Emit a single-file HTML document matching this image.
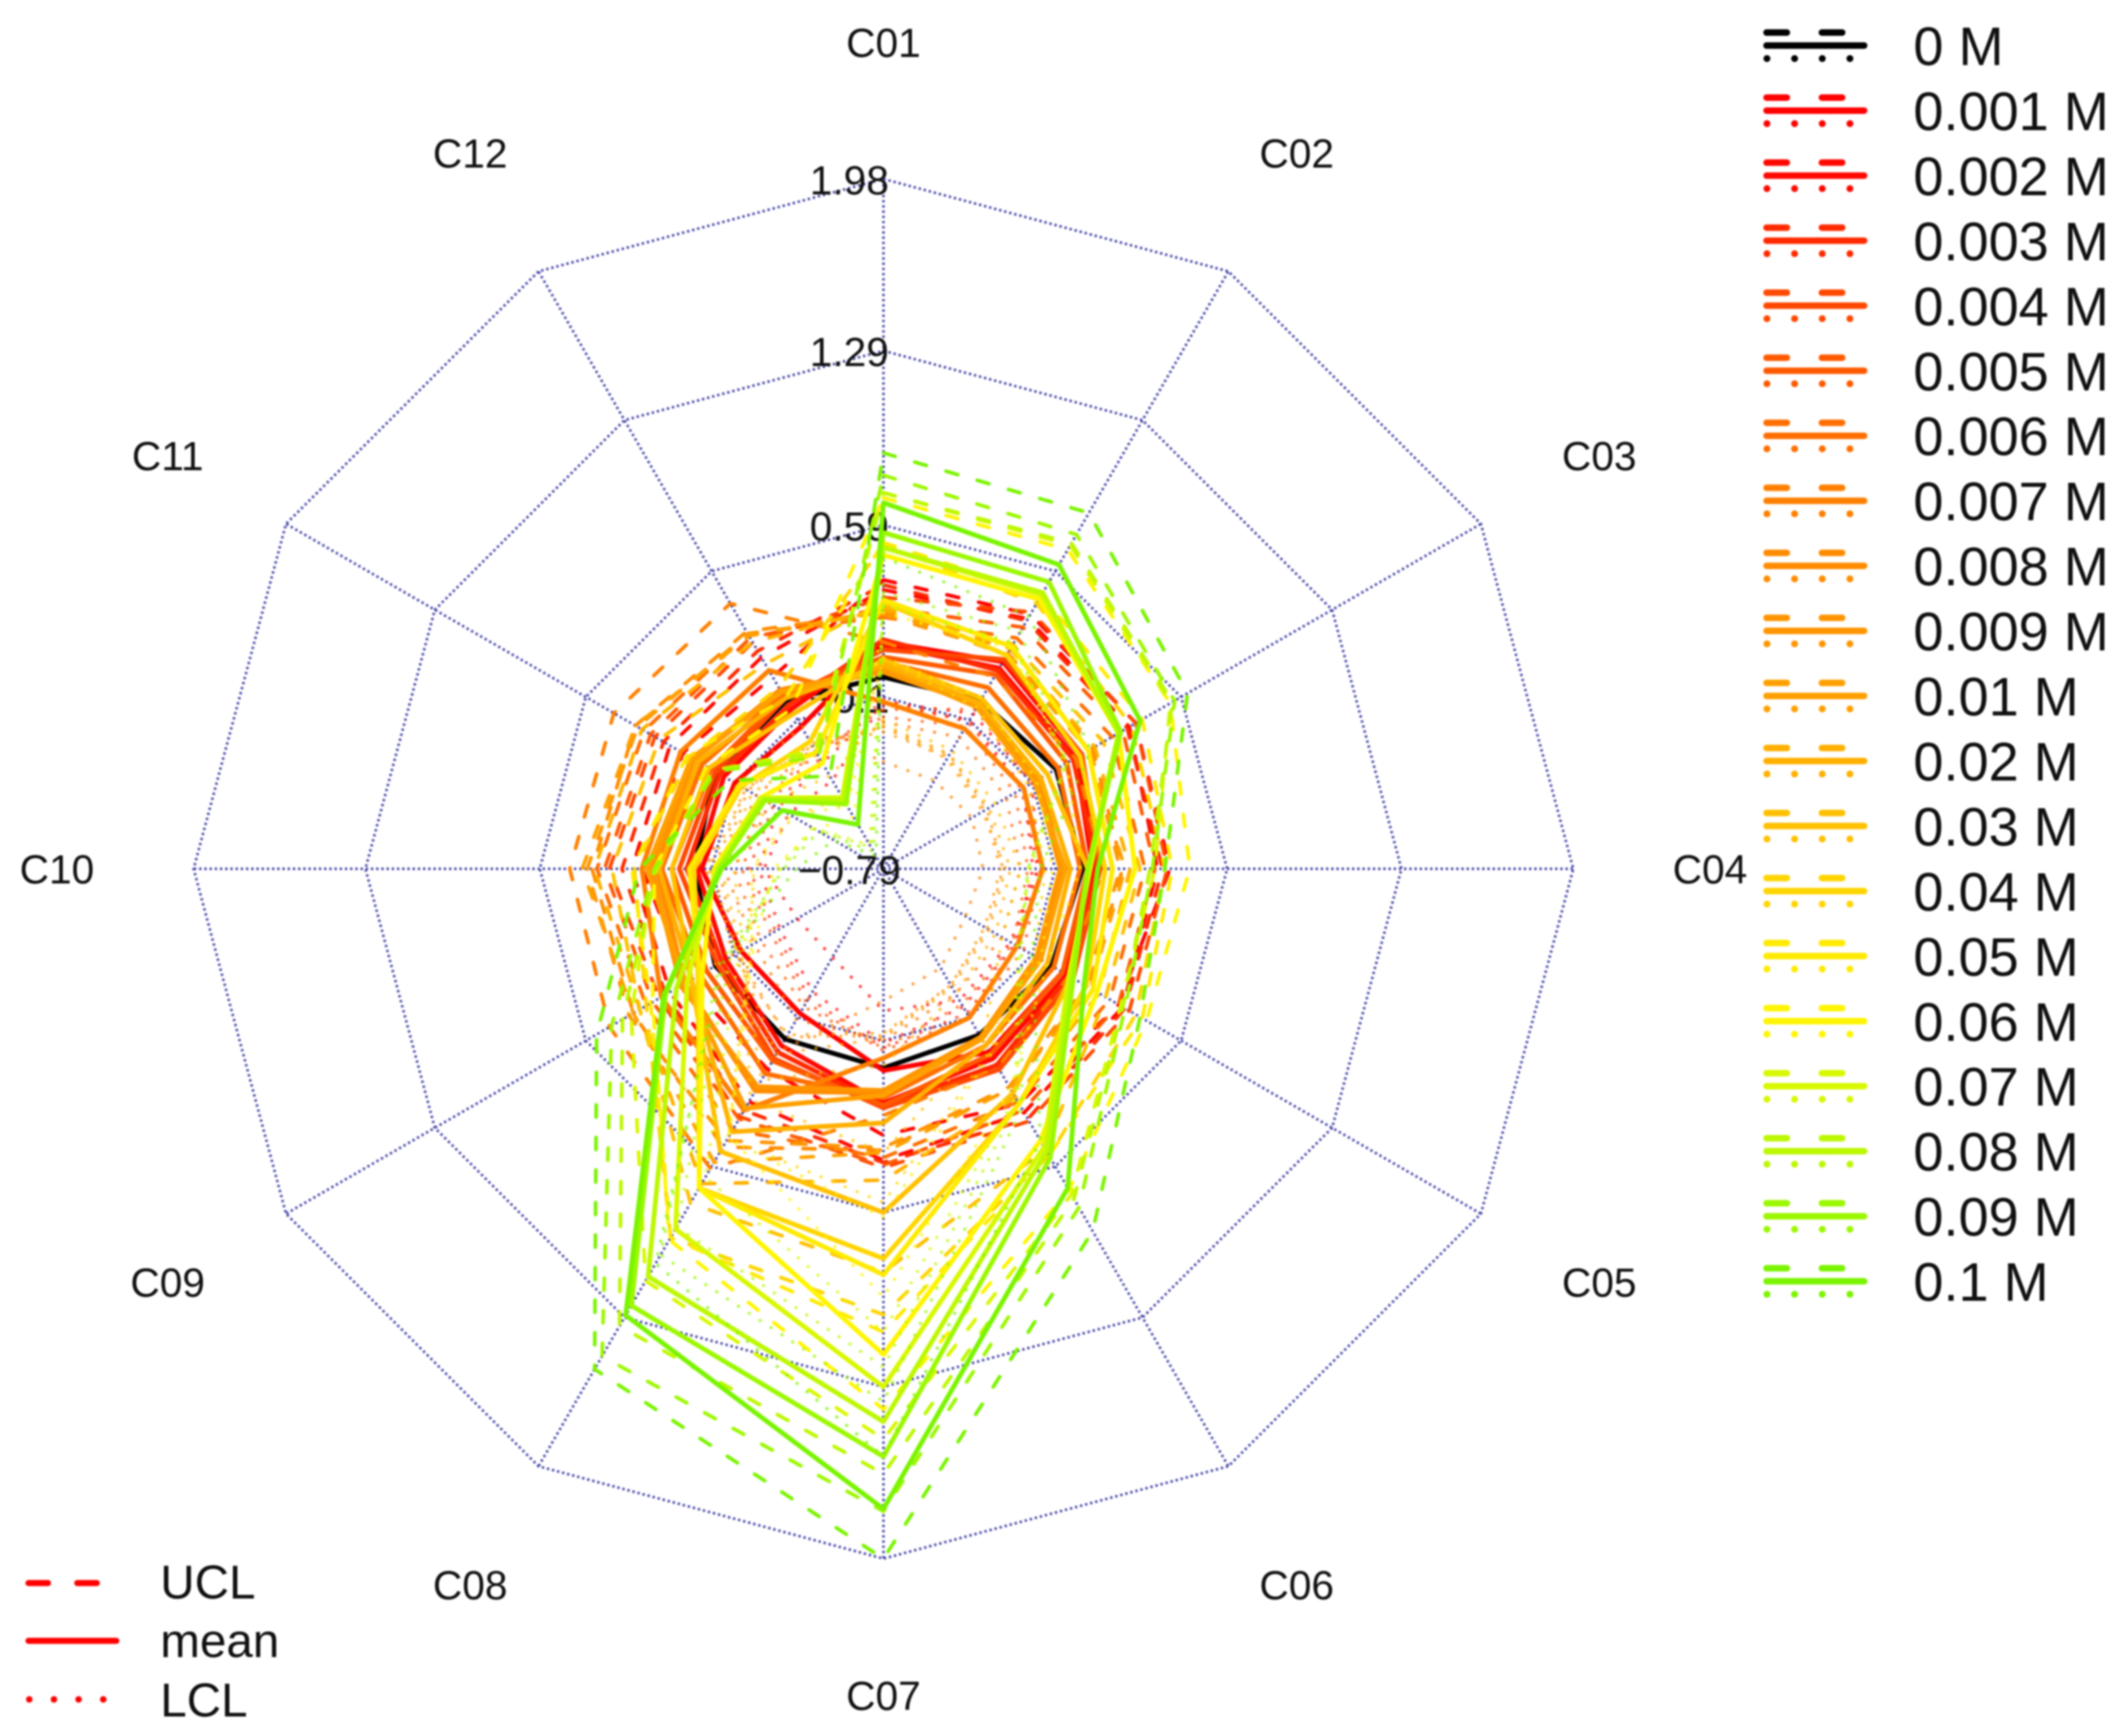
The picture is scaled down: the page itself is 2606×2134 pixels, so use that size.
<!DOCTYPE html>
<html lang="en">
<head>
<meta charset="utf-8">
<title>Radar chart of concentration responses</title>
<style>
html,body{margin:0;padding:0;background:#fff;width:2606px;height:2134px;overflow:hidden}
svg{display:block;filter:blur(1.1px)}
text{font-family:"Liberation Sans",sans-serif;fill:#101010}
</style>
</head>
<body>
<svg id="chart" xmlns="http://www.w3.org/2000/svg" width="2606" height="2134" viewBox="0 0 2606 2134">
  <rect x="0" y="0" width="2606" height="2134" fill="#fff"/>
  <g id="grid"></g>
  <g id="ticks"></g>
  <g id="categories"></g>
  <g id="series"></g>
  <g id="legend"></g>
  <g>
    <g>
      <line x1="35" y1="1946" x2="119" y2="1946" stroke="#ff0000" stroke-width="7.5" stroke-linecap="round" stroke-dasharray="24 36"/>
      <text x="197" y="1965" font-size="58.5">UCL</text>
    </g>
    <g>
      <line x1="35" y1="2017" x2="143" y2="2017" stroke="#ff0000" stroke-width="7.5" stroke-linecap="round"/>
      <text x="197" y="2037" font-size="58.5">mean</text>
    </g>
    <g>
      <line x1="36" y1="2089" x2="130" y2="2089" stroke="#ff0000" stroke-width="8" stroke-linecap="round" stroke-dasharray="0 30.3"/>
      <text x="197" y="2110" font-size="58.5">LCL</text>
    </g>
  </g>
</svg>
<script>
const categories = ["C01","C02","C03","C04","C05","C06","C07","C08","C09","C10","C11","C12"];
const tickValues = [-0.79,-0.10,0.59,1.29,1.98];
const tickLabels = ["\u22120.79","\u22120.1","0.59","1.29","1.98"];
const concentrationLabels = ["0 M","0.001 M","0.002 M","0.003 M","0.004 M","0.005 M","0.006 M","0.007 M","0.008 M","0.009 M","0.01 M","0.02 M","0.03 M","0.04 M","0.05 M","0.06 M","0.07 M","0.08 M","0.09 M","0.1 M"];
const seriesColors = ["#000000","#ff0000","#ff0800","#ff2a00","#ff4800","#ff5a00","#ff6e00","#ff7f00","#ff8c00","#ff9500","#ffa000","#ffb000","#ffc000","#ffd500","#ffea00","#fff500","#d8f800","#bcf800","#9cf800","#7af400"];

const meanValues = [
[-.02,-.01,.01,.01,-.01,-.02,.01,.0,-.01,-.03,-.01,-.01],
[.12,.17,.12,.06,.04,.06,.02,-.12,-.13,-.06,-.10,-.13],
[.11,.14,.10,.05,.06,.09,.15,.03,-.06,-.04,-.05,-.05],
[.13,.13,.09,.07,.07,.12,.16,.06,-.04,.0,-.03,-.03],
[.09,.18,.13,.08,.09,.14,.17,.09,-.02,.03,-.01,.0],
[.06,.11,.06,.03,.04,.07,.16,.10,.03,.06,.01,.01],
[.04,.05,.02,.0,.0,.03,.13,.16,.06,.10,.05,.02],
[-.12,-.14,-.14,-.15,-.17,-.10,-.03,.33,.24,.18,.15,.13],
[.01,-.02,-.07,-.07,-.07,-.01,.11,.24,.13,.12,.09,.04],
[.0,-.03,-.08,-.08,-.08,-.01,.10,.22,.15,.14,.09,.03],
[.02,-.04,-.09,-.06,-.06,.0,.12,.32,.13,.16,.10,.03],
[.03,-.02,-.06,-.04,-.03,.03,.23,.43,.10,.11,.07,.0],
[.05,.0,-.03,.03,.08,.25,.59,.52,.10,.06,.02,-.07],
[.28,.20,.12,.10,.15,.30,.775,.69,.07,-.03,-.13,-.20],
[.29,.24,.16,.13,.18,.30,.84,.69,.06,-.01,-.12,-.25],
[.47,.46,.30,.22,.20,.47,1.16,.69,.05,-.11,-.22,-.30],
[.50,.48,.30,.04,.07,.50,1.29,.88,.12,-.12,-.22,-.46],
[.50,.49,.30,.03,.08,.52,1.43,1.10,.17,-.13,-.23,-.47],
[.56,.54,.31,.03,.09,.55,1.57,1.235,.22,-.13,-.24,-.49],
[.68,.62,.40,.07,.14,.69,1.78,1.28,.23,-.14,-.32,-.585]
];
const uclValues = [
[-.02,-.01,.01,.01,-.01,-.02,.01,.0,-.01,-.03,-.01,-.01],
[.37,.39,.38,.36,.30,.30,.28,.14,.12,.18,.14,.10],
[.33,.37,.35,.31,.32,.34,.38,.29,.20,.22,.20,.19],
[.35,.36,.34,.33,.33,.37,.39,.33,.22,.26,.23,.22],
[.30,.40,.38,.35,.35,.38,.41,.36,.25,.31,.27,.26],
[.26,.33,.32,.30,.30,.33,.40,.37,.28,.33,.29,.28],
[.22,.28,.27,.26,.26,.29,.37,.42,.31,.36,.32,.30],
[.12,.10,.10,.09,.07,.13,.20,.60,.48,.47,.46,.44],
[.24,.23,.18,.17,.16,.23,.34,.50,.37,.38,.36,.31],
[.23,.21,.17,.16,.15,.22,.33,.47,.39,.40,.35,.30],
[.25,.20,.16,.18,.17,.23,.35,.57,.37,.42,.36,.29],
[.26,.23,.19,.20,.21,.27,.46,.67,.34,.37,.33,.26],
[.28,.25,.23,.24,.24,.51,.83,.76,.34,.30,.25,.16],
[.51,.44,.36,.34,.38,.54,1.0,.92,.31,.21,.11,.05],
[.52,.48,.41,.37,.41,.54,1.07,.92,.29,.22,.12,.0],
[.70,.69,.54,.44,.43,.70,1.38,.93,.28,.13,.03,-.05],
[.72,.71,.54,.30,.31,.72,1.50,1.12,.38,.13,.0,-.24],
[.72,.72,.55,.28,.32,.74,1.64,1.33,.42,.12,.0,-.25],
[.79,.76,.56,.29,.33,.78,1.79,1.47,.47,.13,-.01,-.27],
[.88,.86,.62,.34,.40,.89,1.98,1.53,.54,.19,-.08,-.36]
];
const lclValues = [
[-.02,-.01,.01,.01,-.01,-.02,.01,.0,-.01,-.03,-.01,-.01],
[-.12,-.07,-.10,-.17,-.20,-.18,-.22,-.38,-.39,-.31,-.35,-.38],
[-.13,-.10,-.14,-.19,-.18,-.15,-.09,-.22,-.31,-.29,-.30,-.30],
[-.11,-.11,-.15,-.17,-.17,-.12,-.07,-.19,-.29,-.25,-.28,-.28],
[-.15,-.05,-.11,-.16,-.14,-.10,-.06,-.17,-.27,-.22,-.26,-.25],
[-.18,-.13,-.18,-.21,-.19,-.16,-.07,-.15,-.22,-.19,-.24,-.24],
[-.20,-.18,-.22,-.24,-.24,-.21,-.10,-.09,-.19,-.15,-.20,-.23],
[-.36,-.38,-.38,-.39,-.41,-.33,-.26,.06,-.01,-.08,-.11,-.13],
[-.22,-.26,-.31,-.31,-.31,-.25,-.12,-.01,-.11,-.13,-.16,-.21],
[-.24,-.27,-.32,-.32,-.32,-.25,-.13,-.02,-.09,-.11,-.15,-.22],
[-.22,-.28,-.33,-.30,-.30,-.24,-.11,.07,-.11,-.09,-.15,-.22],
[-.21,-.26,-.30,-.28,-.27,-.21,.0,.19,-.13,-.14,-.18,-.26],
[-.19,-.24,-.27,-.24,-.24,.01,.35,.28,-.14,-.19,-.26,-.36],
[.05,-.04,-.12,-.14,-.09,.06,.55,.46,-.17,-.27,-.37,-.46],
[.06,.0,-.08,-.11,-.06,.07,.61,.46,-.18,-.26,-.36,-.50],
[.24,.23,.06,0,-.03,.23,.93,.45,-.19,-.35,-.47,-.55],
[.27,.25,.06,-.20,-.17,.27,1.07,.64,-.12,-.37,-.46,-.68],
[.27,.26,.05,-.21,-.16,.29,1.21,.87,-.08,-.38,-.47,-.69],
[.32,.31,.06,-.21,-.15,.32,1.35,1.00,-.03,-.39,-.49,-.71],
[.46,.38,.17,-.16,-.10,.47,1.57,1.04,-.05,-.44,-.56,-.73]
];

const NS = "http://www.w3.org/2000/svg";
const centerX = 1086, centerY = 1068, outerRadius = 848, labelRadius = 1016;
const axisMin = tickValues[0], axisMax = tickValues[tickValues.length - 1];

function radiusScale(v) {
  return (v - axisMin) / (axisMax - axisMin) * outerRadius;
}
function angleScale(i) {
  return i / categories.length * 2 * Math.PI;
}
function polarX(r, i) {
  return centerX + r * Math.sin(angleScale(i));
}
function polarY(r, i) {
  return centerY - r * Math.cos(angleScale(i));
}
function make(tag, attrs, parent) {
  const el = document.createElementNS(NS, tag);
  for (const k in attrs) el.setAttribute(k, attrs[k]);
  parent.appendChild(el);
  return el;
}
function pointsFor(values) {
  return values.map(function (v, i) {
    const r = radiusScale(v);
    return polarX(r, i).toFixed(1) + "," + polarY(r, i).toFixed(1);
  }).join(" ");
}

const gridGroup = document.getElementById("grid");
const gridStyle = {fill: "none", stroke: "#4444a8", "stroke-width": 3.2, "stroke-dasharray": "2.8 3.6"};
tickValues.slice(1).forEach(function (t) {
  const ring = make("polygon", Object.assign({points: pointsFor(categories.map(function () { return t; }))}, gridStyle), gridGroup);
  
  
});
categories.forEach(function (c, i) {
  const spoke = make("line", Object.assign({x1: centerX, y1: centerY, x2: polarX(outerRadius, i), y2: polarY(outerRadius, i)}, gridStyle), gridGroup);
  
  
});

const tickGroup = document.getElementById("ticks");
tickValues.forEach(function (t, i) {
  const label = make("text", {x: 1044, y: centerY - radiusScale(t) + 19, "font-size": 50, "text-anchor": "middle"}, tickGroup);
  label.textContent = tickLabels[i];
  
  
});

const catGroup = document.getElementById("categories");
categories.forEach(function (c, i) {
  const label = make("text", {x: polarX(labelRadius, i), y: polarY(labelRadius, i) + 18, "font-size": 50, "text-anchor": "middle"}, catGroup);
  label.textContent = c;
  
  
});

const seriesGroup = document.getElementById("series");
concentrationLabels.forEach(function (name, s) {
  const color = seriesColors[s];
  const g = make("g", {}, seriesGroup);
  
  
  const ucl = make("polygon", {points: pointsFor(uclValues[s]), fill: "none", stroke: color, "stroke-width": 4.4, "stroke-dasharray": "15 25", "stroke-linecap": "round"}, g);
  
  
  const mean = make("polygon", {points: pointsFor(meanValues[s]), fill: "none", stroke: color, "stroke-width": 5.8, "stroke-linejoin": "round"}, g);
  
  
  const lcl = make("polygon", {points: pointsFor(lclValues[s]), fill: "none", stroke: color, "stroke-width": 4.2, "stroke-dasharray": "0 16", "stroke-linecap": "round", opacity: 0.7}, g);
  
  
});

const legendGroup = document.getElementById("legend");
concentrationLabels.forEach(function (name, s) {
  const y = 56 + 79.95 * s;
  const color = seriesColors[s];
  const row = make("g", {}, legendGroup);
  
  
  make("line", {x1: 2171.5, y1: y - 16, x2: 2264.5, y2: y - 16, stroke: color, "stroke-width": 8, "stroke-linecap": "round", "stroke-dasharray": "25 43"}, row);
  make("line", {x1: 2171.5, y1: y, x2: 2291.5, y2: y, stroke: color, "stroke-width": 8, "stroke-linecap": "round"}, row);
  make("line", {x1: 2172, y1: y + 16, x2: 2280, y2: y + 16, stroke: color, "stroke-width": 8.5, "stroke-linecap": "round", "stroke-dasharray": "0 34"}, row);
  const label = make("text", {x: 2352, y: y + 24, "font-size": 66.5}, row);
  label.textContent = name;
});
</script>
</body>
</html>
